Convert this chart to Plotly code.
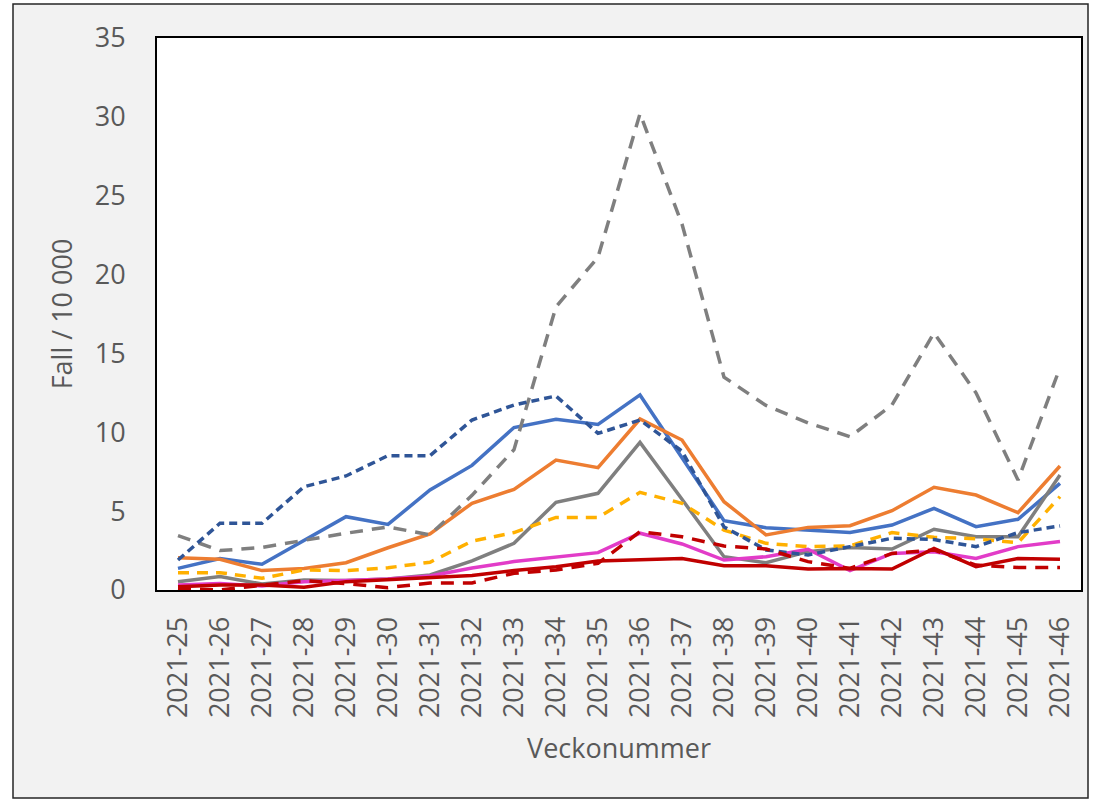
import plotly.graph_objects as go

weeks = ["2021-25", "2021-26", "2021-27", "2021-28", "2021-29", "2021-30", "2021-31",
         "2021-32", "2021-33", "2021-34", "2021-35", "2021-36", "2021-37", "2021-38",
         "2021-39", "2021-40", "2021-41", "2021-42", "2021-43", "2021-44", "2021-45", "2021-46"]

blue_solid = [1.37, 2.0, 1.63, 3.17, 4.65, 4.16, 6.34, 7.9, 10.3, 10.82, 10.5, 12.37,
              8.4, 4.4, 3.95, 3.8, 3.64, 4.12, 5.18, 4.02, 4.48, 6.76]
orange_solid = [2.05, 1.95, 1.23, 1.37, 1.73, 2.68, 3.55, 5.5, 6.38, 8.24, 7.76, 10.84,
                9.51, 5.6, 3.49, 3.97, 4.08, 5.03, 6.51, 6.02, 4.9, 7.86]
grey_solid = [0.53, 0.85, 0.38, 0.63, 0.6, 0.7, 0.95, 1.85, 2.96, 5.56, 6.13, 9.36,
              5.75, 2.11, 1.73, 2.43, 2.7, 2.6, 3.85, 3.38, 3.38, 7.29]
yellow_dashed = [1.1, 1.1, 0.74, 1.27, 1.23, 1.41, 1.76, 3.1, 3.64, 4.6, 4.6, 6.19,
                 5.5, 3.8, 2.96, 2.75, 2.8, 3.64, 3.34, 3.25, 3.0, 5.92]
magenta_solid = [0.32, 0.42, 0.25, 0.53, 0.6, 0.7, 0.89, 1.4, 1.8, 2.07, 2.37, 3.6,
                 2.92, 1.9, 2.11, 2.58, 1.23, 2.32, 2.43, 2.0, 2.75, 3.07]
red_solid = [0.21, 0.32, 0.32, 0.17, 0.53, 0.65, 0.8, 0.92, 1.23, 1.48, 1.84, 1.9,
             2.0, 1.54, 1.54, 1.33, 1.37, 1.33, 2.64, 1.48, 2.0, 1.95]
grey_dashed = [3.45, 2.5, 2.7, 3.17, 3.6, 4.0, 3.5, 6.0, 8.9, 17.96, 21.1, 30.2,
               23.2, 13.5, 11.7, 10.6, 9.72, 11.73, 16.3, 12.5, 6.97, 14.1]
navy_dotted = [1.9, 4.23, 4.23, 6.55, 7.23, 8.52, 8.52, 10.78, 11.73, 12.3, 9.93, 10.78,
               8.8, 4.0, 2.54, 2.22, 2.75, 3.28, 3.2, 2.75, 3.64, 4.06]
red_dashed = [0.1, 0.0, 0.3, 0.6, 0.4, 0.15, 0.45, 0.45, 1.06, 1.27, 1.69, 3.7,
              3.38, 2.79, 2.6, 1.8, 1.37, 2.32, 2.54, 1.58, 1.43, 1.43]

series = [
    (blue_solid, "#4472C4", "solid"),
    (orange_solid, "#ED7D31", "solid"),
    (grey_solid, "#7F7F7F", "solid"),
    (yellow_dashed, "#FFB000", "11px,8px"),
    (magenta_solid, "#E23CC8", "solid"),
    (red_solid, "#C00000", "solid"),
    (grey_dashed, "#7F7F7F", "13px,9px"),
    (navy_dotted, "#2F5597", "8px,5px"),
    (red_dashed, "#C00000", "13px,9px"),
]

fig = go.Figure()
for vals, color, dash in series:
    fig.add_trace(go.Scatter(x=weeks, y=vals, mode="lines",
                             line=dict(color=color, width=3.5, dash=dash),
                             showlegend=False, hoverinfo="skip"))

W, H = 1101, 801
L, R, T, B = 157, 1081, 38, 590
pw, ph = R - L, B - T

def px_x(x):
    return (x - L) / pw

def px_y(y):
    return (B - y) / ph

fig.update_layout(
    width=W, height=H,
    margin=dict(l=L, r=W - R, t=T, b=H - B, autoexpand=False),
    paper_bgcolor="white",
    plot_bgcolor="rgba(0,0,0,0)",
    font=dict(family="Open Sans", size=27, color="#595959"),
    shapes=[
        dict(type="rect", xref="paper", yref="paper",
             x0=px_x(13), x1=px_x(1088), y0=px_y(798), y1=px_y(4),
             fillcolor="#F2F2F2", line=dict(color="#262626", width=1.5), layer="below"),
        dict(type="rect", xref="paper", yref="paper",
             x0=0, x1=1, y0=0, y1=1,
             fillcolor="white", line=dict(width=0), layer="below"),
    ],
)
fig.update_xaxes(
    type="category", range=[-0.5, 21.5],
    showline=True, mirror=True, linecolor="black", linewidth=2,
    showgrid=False, zeroline=False,
    tickangle=-90, ticks="outside", ticklen=14, tickcolor="rgba(0,0,0,0)",
    tickfont=dict(size=27, color="#595959"),
    title=dict(text="Veckonummer", font=dict(size=27, color="#595959"), standoff=22),
)
fig.update_yaxes(
    range=[0, 35], dtick=5, tick0=0,
    showline=True, mirror=True, linecolor="black", linewidth=2,
    showgrid=False, zeroline=False,
    ticks="outside", ticklen=24, tickcolor="rgba(0,0,0,0)",
    tickfont=dict(size=27, color="#595959"),
    title=dict(text="Fall / 10 000", font=dict(size=27, color="#595959"), standoff=14),
)

fig.write_html("out.html", config={"displayModeBar": False, "staticPlot": True},
               post_script="document.body.style.margin='0';document.body.style.overflow='hidden';")
